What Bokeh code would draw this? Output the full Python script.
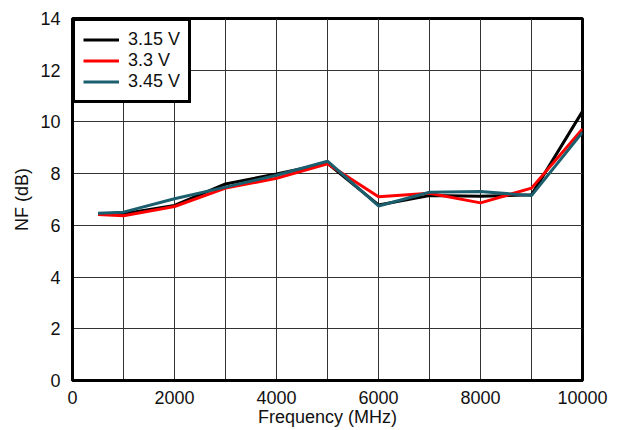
from bokeh.plotting import figure
from bokeh.models import Legend, LegendItem, FixedTicker, Range1d
from bokeh.embed import file_html
from bokeh.resources import INLINE

freq = [500, 1000, 2000, 3000, 4000, 5000, 6000, 7000, 8000, 9000, 10000]
nf_315 = [6.45, 6.45, 6.77, 7.60, 7.99, 8.40, 6.79, 7.15, 7.13, 7.18, 10.41]
nf_33 = [6.42, 6.37, 6.73, 7.44, 7.82, 8.38, 7.11, 7.24, 6.87, 7.44, 9.73]
nf_345 = [6.47, 6.51, 7.03, 7.48, 7.94, 8.48, 6.75, 7.28, 7.31, 7.15, 9.60]
labels = ["3.15 V", "3.3 V", "3.45 V"]
colors = ["#000000", "#FF0000", "#1B5E6E"]

p = figure(width=610, height=429, output_backend="svg", toolbar_location=None,
           x_range=Range1d(0, 10000), y_range=Range1d(0, 14),
           min_border_left=72, min_border_right=28, min_border_top=18, min_border_bottom=49)
p.background_fill_color = "white"
p.border_fill_color = "white"
p.outline_line_color = "black"
p.outline_line_width = 3

for ax in (p.xaxis, p.yaxis):
    ax.axis_line_color = "black"
    ax.axis_line_width = 3
    ax.major_tick_line_color = None
    ax.minor_tick_line_color = None
    ax.major_label_text_font = "Liberation Sans"
    ax.major_label_text_font_size = "18px"
    ax.major_label_text_color = "#111111"
    ax.axis_label_text_font = "Liberation Sans"
    ax.axis_label_text_font_size = "18px"
    ax.axis_label_text_font_style = "normal"
    ax.axis_label_text_color = "#111111"

p.xaxis.ticker = FixedTicker(ticks=[0, 2000, 4000, 6000, 8000, 10000])
p.yaxis.ticker = FixedTicker(ticks=[0, 2, 4, 6, 8, 10, 12, 14])
p.xaxis.axis_label = "Frequency (MHz)"
p.yaxis.axis_label = "NF (dB)"
p.xaxis.major_label_standoff = 4
p.xaxis.axis_label_standoff = 0
p.yaxis.major_label_standoff = 6
p.yaxis.axis_label_standoff = 5

p.xgrid.ticker = FixedTicker(ticks=list(range(0, 10001, 1000)))
p.ygrid.ticker = FixedTicker(ticks=list(range(0, 15, 2)))
p.xgrid.grid_line_color = "#333333"
p.ygrid.grid_line_color = "#333333"
p.xgrid.grid_line_width = 1
p.ygrid.grid_line_width = 1

renderers = []
for ys, c in zip([nf_315, nf_33, nf_345], colors):
    r = p.line(freq, ys, line_color=c, line_width=3)
    renderers.append(r)

legend = Legend(items=[LegendItem(label=l, renderers=[r]) for l, r in zip(labels, renderers)],
                location="top_left")
legend.border_line_color = "black"
legend.border_line_alpha = 1
legend.border_line_width = 3
legend.label_text_font = "Liberation Sans"
legend.label_text_font_size = "18px"
legend.label_text_color = "#111111"
legend.label_height = 21
legend.label_standoff = 9
legend.glyph_width = 36
legend.glyph_height = 21
legend.spacing = 0
legend.padding = 8
legend.margin = 0
legend.background_fill_alpha = 1
p.add_layout(legend)

open("out.html", "w").write(file_html(p, INLINE))
